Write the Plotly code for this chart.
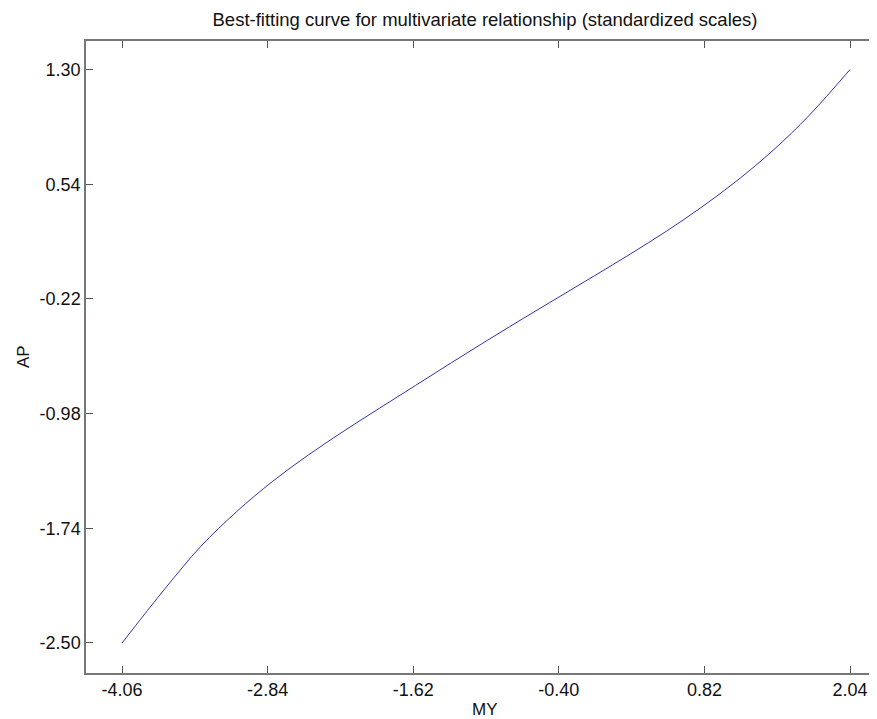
import plotly.graph_objects as go

# Curve values
my_vals = [-4.06, -3.7, -3.4, -3.1, -2.8, -2.5, -2.2, -1.9, -1.6, -1.3, -1.0,
           -0.7, -0.4, -0.1, 0.2, 0.5, 0.8, 1.1, 1.4, 1.7, 2.04]
ap_vals = [-2.50, -2.14, -1.86, -1.63, -1.43, -1.255, -1.095, -0.943, -0.793,
           -0.643, -0.495, -0.350, -0.208, -0.066, 0.078, 0.228, 0.390, 0.568,
           0.768, 0.998, 1.30]

x_ticks = [-4.06, -2.84, -1.62, -0.40, 0.82, 2.04]
x_tick_labels = ["-4.06", "-2.84", "-1.62", "-0.40", "0.82", "2.04"]
y_ticks = [-2.50, -1.74, -0.98, -0.22, 0.54, 1.30]
y_tick_labels = ["-2.50", "-1.74", "-0.98", "-0.22", "0.54", "1.30"]

title_text = "Best-fitting curve for multivariate relationship (standardized scales)"
x_label = "MY"
y_label = "AP"

FONT = "Arial, Liberation Sans, sans-serif"

# The page body adds an 8px offset; the plot box runs past the right edge of the window
W, H = 885, 711

fig = go.Figure()
fig.add_trace(go.Scatter(
    x=my_vals, y=ap_vals, mode="lines",
    line=dict(color="#3333aa", width=1, shape="spline", smoothing=1.0),
    showlegend=False, hoverinfo="skip",
))

axis_common = dict(
    showgrid=False, zeroline=False, showline=True, automargin=False,
    linecolor="#777777", linewidth=1.5,
    ticks="inside", ticklen=7, tickwidth=1, tickcolor="#555555",
    tickfont=dict(family=FONT, size=18, color="#111111"),
)

fig.update_layout(
    width=W, height=H,
    margin=dict(l=78, r=0, t=33, b=46),
    paper_bgcolor="white", plot_bgcolor="white",
    title=dict(text=title_text, x=477 / W, xanchor="center",
               y=1 - 12 / H, yanchor="middle", yref="container",
               font=dict(family=FONT, size=18.5, color="#111111")),
    xaxis=dict(range=[-4.362, 2.400], tickvals=x_ticks, ticktext=x_tick_labels,
               mirror="ticks", **axis_common),
    yaxis=dict(range=[-2.699, 1.489], tickvals=y_ticks, ticktext=y_tick_labels,
               mirror=False, **axis_common),
    annotations=[
        dict(text=x_label, xref="paper", yref="paper", x=(477 - 78) / (W - 78),
             y=(673 - 709) / 632, xanchor="center", yanchor="middle", showarrow=False,
             borderpad=0, font=dict(family=FONT, size=17, color="#111111")),
        dict(text=y_label, xref="paper", yref="paper", x=(15 - 78) / (W - 78),
             y=0.5, xanchor="center", yanchor="middle", showarrow=False, textangle=-90,
             borderpad=0, font=dict(family=FONT, size=17, color="#111111")),
    ],
)

fig.write_html("out.html",
               post_script="document.documentElement.style.overflow='hidden';")
